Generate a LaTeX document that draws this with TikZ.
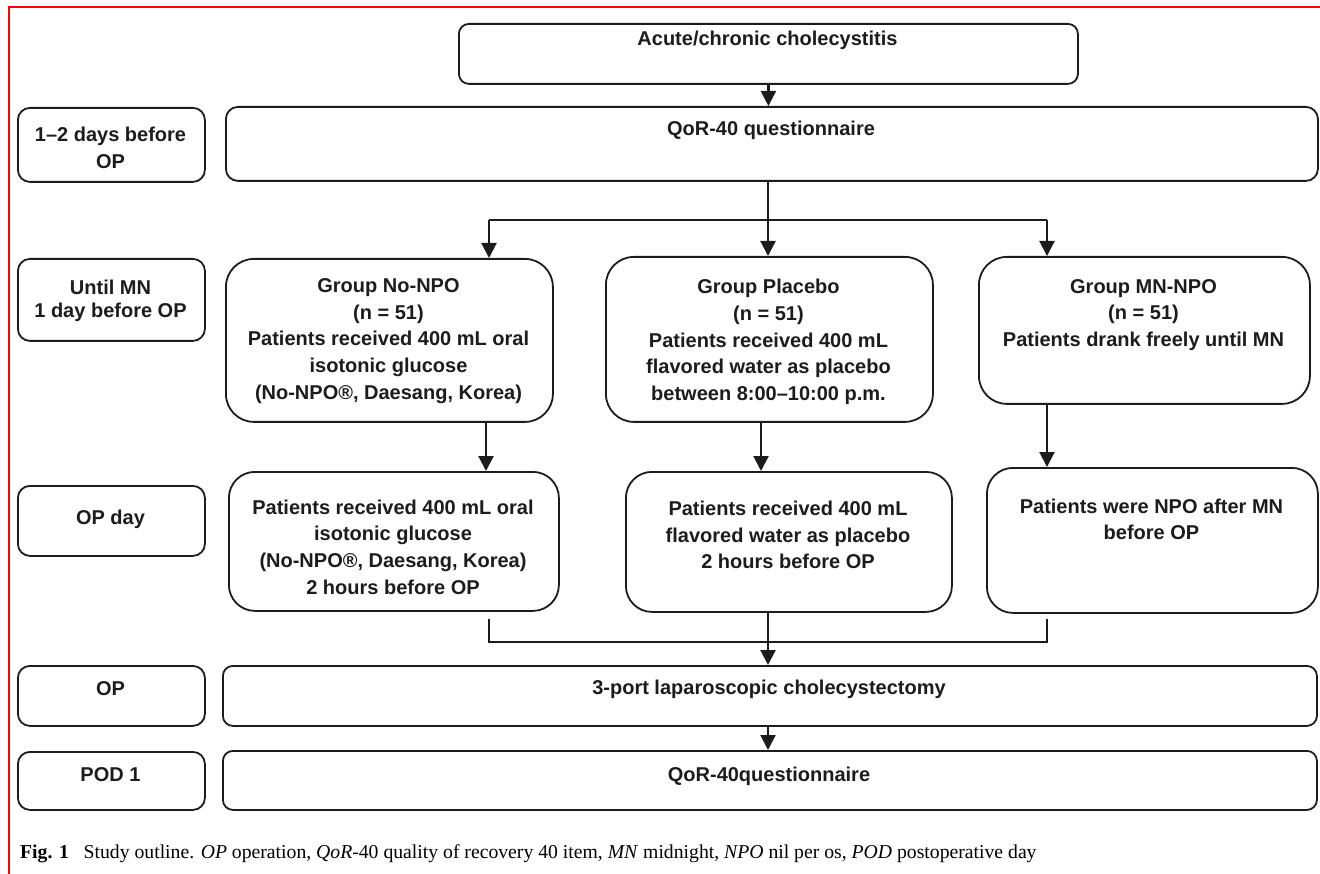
\documentclass[tikz,border=0pt]{standalone}
\usepackage{fontspec}
\setmainfont{Liberation Sans}
\newfontfamily\capfont{Liberation Serif}
\usetikzlibrary{arrows.meta,calc}
\definecolor{ink}{RGB}{28,28,28}
\begin{document}
\begin{tikzpicture}[x=1pt,y=-1pt,
  box/.style={draw=ink, line width=1.8pt, rounded corners=#1, inner sep=0pt, anchor=north west},
  txt/.style={align=center, inner sep=0pt, text=ink, font=\bfseries\fontsize{20}{26.7}\selectfont},
  ln/.style={draw=ink, line width=2.2pt},
  arr/.style={draw=ink, line width=2.2pt, -{Triangle[width=15pt,length=15pt]}}]
\useasboundingbox (0,0) rectangle (1320,874);
\draw[red, line width=2pt] (1320,7.5) -- (8.5,7.5) -- (8.5,874);

% boxes
\node[box=10pt, minimum width=619pt, minimum height=60pt] (top) at (458,23) {};
\node[box=12pt, minimum width=1092pt, minimum height=74pt] (qor1) at (225,106) {};
\node[box=12pt, minimum width=187pt, minimum height=74pt] (lab1) at (17,107) {};
\node[box=12pt, minimum width=187pt, minimum height=82pt] (lab2) at (17,258) {};
\node[box=28pt, minimum width=327pt, minimum height=163pt] (g1) at (225,258) {};
\node[box=28pt, minimum width=327pt, minimum height=165pt] (g2) at (605,256) {};
\node[box=28pt, minimum width=331pt, minimum height=147pt] (g3) at (978,256) {};
\node[box=12pt, minimum width=187pt, minimum height=70pt] (lab3) at (17,485) {};
\node[box=26pt, minimum width=330pt, minimum height=139pt] (r1) at (228,471) {};
\node[box=26pt, minimum width=326pt, minimum height=140pt] (r2) at (625,471) {};
\node[box=26pt, minimum width=331pt, minimum height=145pt] (r3) at (986,467) {};
\node[box=12pt, minimum width=187pt, minimum height=60pt] (lab4) at (17,665) {};
\node[box=10pt, minimum width=1094pt, minimum height=60pt] (op) at (222,665) {};
\node[box=12pt, minimum width=187pt, minimum height=58pt] (lab5) at (17,751) {};
\node[box=10pt, minimum width=1094pt, minimum height=59pt] (pod) at (222,750) {};

% texts
\node[txt] (topt) at (767.5,40) {Acute/chronic cholecystitis};
\node[txt] (qor1t) at (771,130) {QoR-40 questionnaire};
\node[txt] (lab1t) at (110.5,148) {1–2 days before\\OP};
\node[txt, font=\bfseries\fontsize{20}{23}\selectfont] (lab2t) at (110.5,300.5) {Until MN\\1 day before OP};
\node[txt] (g1t) at (388.5,341) {Group No-NPO\\(n = 51)\\Patients received 400 mL oral\\isotonic glucose\\(No-NPO®, Daesang, Korea)};
\node[txt] (g2t) at (768.5,342) {Group Placebo\\(n = 51)\\Patients received 400 mL\\flavored water as placebo\\between 8:00–10:00 p.m.};
\node[txt] (g3t) at (1143.5,315) {Group MN-NPO\\(n = 51)\\Patients drank freely until MN};
\node[txt] (lab3t) at (110.5,519) {OP day};
\node[txt] (r1t) at (393,547) {Patients received 400 mL oral\\isotonic glucose\\(No-NPO®, Daesang, Korea)\\2 hours before OP};
\node[txt] (r2t) at (788,535) {Patients received 400 mL\\flavored water as placebo\\2 hours before OP};
\node[txt] (r3t) at (1151.5,519.5) {Patients were NPO after MN\\before OP};
\node[txt] (lab4t) at (110.5,689) {OP};
\node[txt] (opt) at (769,689) {3-port laparoscopic cholecystectomy};
\node[txt] (lab5t) at (110.5,775) {POD 1};
\node[txt] (podt) at (769,776) {QoR-40questionnaire};

% column coordinates
\coordinate (xA) at (486,0);
\coordinate (xB) at (761,0);
\coordinate (xC) at (1047,0);
\coordinate (xL) at (489,0);
\coordinate (xM) at (768,0);
\coordinate (bL) at (489,220);
\coordinate (bM) at (768,220);
\coordinate (bR) at (1047,220);
\coordinate (mL) at (489,642);
\coordinate (mM) at (768,642);
\coordinate (mR) at (1047,642);

% connectors
\draw[arr] (top.south) -- (top.south |- qor1.north);
\draw[ln] (qor1.south -| bM) -- (bM);
\draw[ln] (bL) -- (bR);
\draw[arr] (bL) -- (bL |- g1.north);
\draw[arr] (bM) -- (bM |- g2.north);
\draw[arr] (bR) -- (bR |- g3.north);
\draw[arr] (g1.south -| xA) -- (r1.north -| xA);
\draw[arr] (g2.south -| xB) -- (r2.north -| xB);
\draw[arr] (g3.south -| xC) -- (r3.north -| xC);
\draw[ln] ([yshift=-7pt]r1.south -| xL) -- (mL) -- (mR) -- ([yshift=-5pt]r3.south -| xC);
\draw[arr] (r2.south -| xM) -- (op.north -| xM);
\draw[arr] (op.south -| xM) -- (pod.north -| xM);

% caption
\node[anchor=base west, inner sep=0pt, text=black, font=\capfont\fontsize{19.7}{23}\selectfont] (cap) at (20,858)
  {\textbf{Fig. 1}\hspace{0.75em}Study outline. \textit{OP} operation, \textit{QoR}-40 quality of recovery 40 item, \textit{MN} midnight, \textit{NPO} nil per os, \textit{POD} postoperative day};
\end{tikzpicture}
\end{document}
